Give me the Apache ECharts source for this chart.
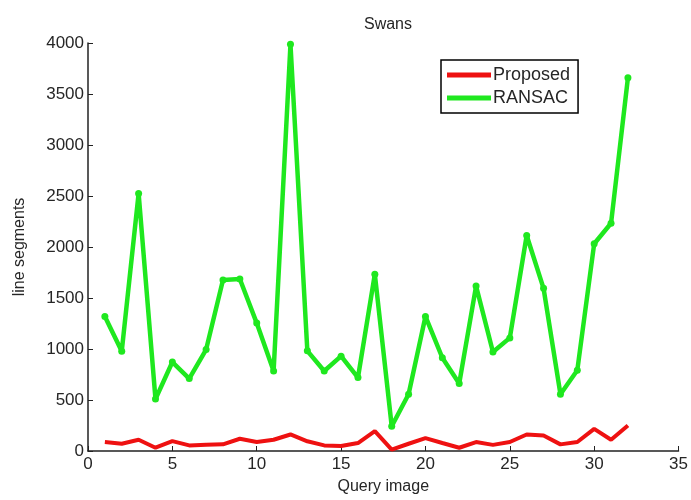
<!DOCTYPE html>
<html>
<head>
<meta charset="utf-8">
<script src="https://cdn.jsdelivr.net/npm/echarts@6/dist/echarts.min.js"></script>
<style>
  html, body { margin: 0; padding: 0; background: #fff; }
  #chart { width: 691px; height: 500px; }
</style>
</head>
<body>
<div id="chart"></div>
<script>
// 查询图像编号
var queryImages = [1, 2, 3, 4, 5, 6, 7, 8, 9, 10, 11, 12, 13, 14, 15, 16,
    17, 18, 19, 20, 21, 22, 23, 24, 25, 26, 27, 28, 29, 30, 31, 32];
// Proposed 方法的线段数
var proposed = [88, 71, 110, 32, 97, 55, 62, 65, 120, 88, 110, 162, 95, 55, 49, 78,
    194, 13, 71, 126, 78, 32, 88, 60, 88, 162, 152, 65, 88, 217, 110, 250];
// RANSAC 的线段数
var ransac = [1319, 979, 2525, 509, 872, 710, 995, 1676, 1686, 1254, 784, 3987, 982, 784, 930, 720,
    1734, 243, 557, 1319, 914, 661, 1617, 970, 1109, 2113, 1595, 557, 791, 2032, 2233, 3660];

function pairs(xs, ys) {
    var arr = [];
    for (var i = 0; i < xs.length; i++) {
        arr.push([xs[i], ys[i]]);
    }
    return arr;
}

var chart = echarts.init(document.getElementById('chart'));
var textColor = '#262626';
var font = 'Liberation Sans, Arial, sans-serif';

var option = {
    animation: false,
    title: {
        text: 'Swans',
        left: 383,
        top: 12,
        textAlign: 'center',
        textStyle: { fontSize: 16, fontWeight: 'normal', color: textColor, fontFamily: font }
    },
    legend: {
        orient: 'vertical',
        left: 441,
        top: 60,
        borderColor: '#000',
        borderWidth: 1.5,
        padding: [6, 8, 6, 6],
        itemGap: 5,
        itemWidth: 44,
        itemHeight: 5,
        textStyle: { fontSize: 18, color: textColor, fontFamily: font, padding: [0, 0, 0, -3] },
        data: [
            { name: 'Proposed', icon: 'rect' },
            { name: 'RANSAC', icon: 'rect' }
        ]
    },
    grid: { left: 88, right: 11, top: 43, bottom: 46 },
    xAxis: {
        type: 'value',
        min: 0,
        max: 35,
        interval: 5,
        name: 'Query image',
        nameLocation: 'middle',
        nameGap: 28,
        nameTextStyle: { fontSize: 16, color: textColor, fontFamily: font },
        axisLine: { lineStyle: { color: '#222', width: 1.5 } },
        axisTick: { inside: true, length: 5, lineStyle: { color: '#222' } },
        axisLabel: { fontSize: 17, color: textColor, fontFamily: font, margin: 5 },
        splitLine: { show: false }
    },
    yAxis: {
        type: 'value',
        min: 0,
        max: 4000,
        interval: 500,
        name: 'line segments',
        nameLocation: 'middle',
        nameGap: 60,
        nameTextStyle: { fontSize: 16, color: textColor, fontFamily: font },
        axisLine: { show: true, lineStyle: { color: '#222', width: 1.5 } },
        axisTick: { show: true, inside: true, length: 5, lineStyle: { color: '#222' } },
        axisLabel: {
            fontSize: 17, color: textColor, fontFamily: font, margin: 4,
            formatter: function (v) { return String(v); }
        },
        splitLine: { show: false }
    },
    series: [
        {
            name: 'Proposed',
            type: 'line',
            data: pairs(queryImages, proposed),
            showSymbol: false,
            symbol: 'none',
            color: '#ee1111',
            lineStyle: { width: 4, color: '#ee1111' }
        },
        {
            name: 'RANSAC',
            type: 'line',
            data: pairs(queryImages, ransac),
            symbol: 'circle',
            symbolSize: 7,
            color: '#1fe81f',
            itemStyle: { color: '#1fe81f' },
            lineStyle: { width: 4.5, color: '#1fe81f' }
        }
    ]
};
chart.setOption(option);
</script>
</body>
</html>
